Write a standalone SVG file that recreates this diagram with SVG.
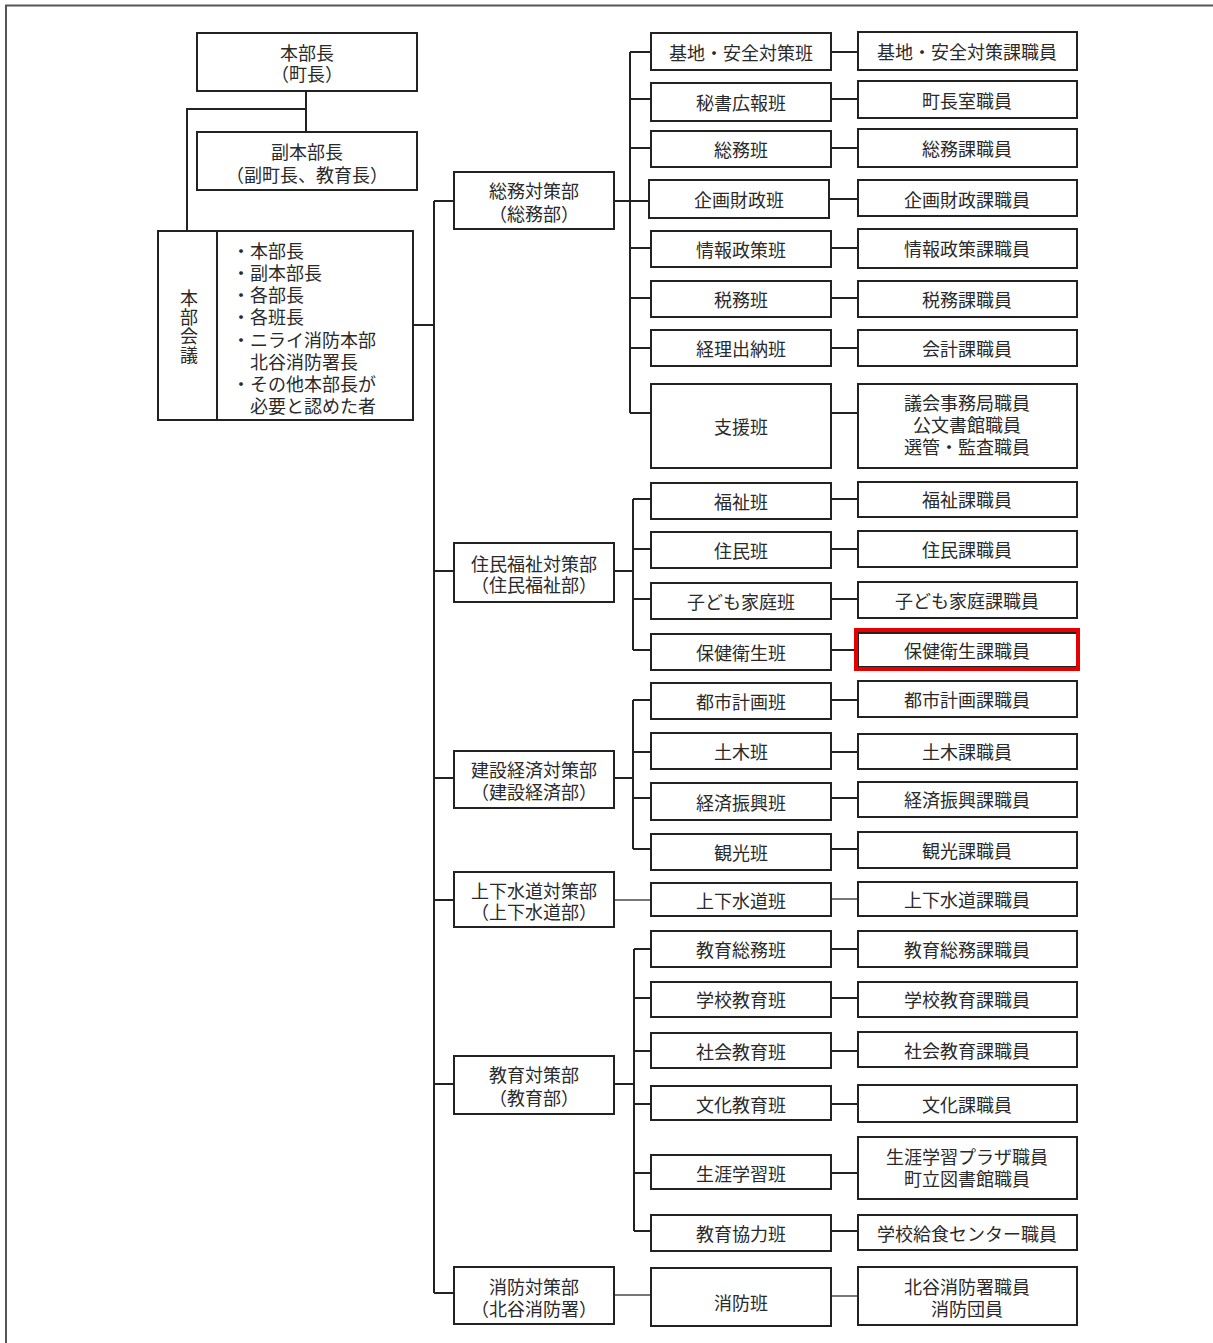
<svg xmlns="http://www.w3.org/2000/svg" width="1213" height="1343" viewBox="0 0 1213 1343">
<style>
.b{fill:#fff;stroke:#222;stroke-width:2}
.t{font-family:"Liberation Sans","Noto Sans CJK JP",sans-serif;font-size:18px;fill:#2a2a2a;text-anchor:middle;dominant-baseline:central;transform:translate(0px,2px)}
.tl{font-family:"Liberation Sans","Noto Sans CJK JP",sans-serif;font-size:18px;fill:#2a2a2a;dominant-baseline:central;transform:translate(0px,2px)}
.tv{font-family:"Liberation Sans","Noto Sans CJK JP",sans-serif;font-size:18px;fill:#2a2a2a;text-anchor:middle;writing-mode:vertical-rl;letter-spacing:1px}
.c{fill:none;stroke:#222;stroke-width:2}
.g{fill:none;stroke:#777;stroke-width:2}
.hl{fill:none;stroke:#e60000;stroke-width:4}
</style>
<rect x="0" y="0" width="1213" height="1343" fill="#fff"/>
<g id="frame"><path d="M6 1343V5.5H1213" fill="none" stroke="#555" stroke-width="2"/></g>

<g id="connectors">
<path class="c" d="M306 91V132M306 109H187V231"/>
<path class="c" d="M413 325H434M434 201V1293"/>
<path class="c" d="M434 201H454M434 571H454M434 778H454M434 900H454M434 1084H454M434 1293H454"/>
<path class="c" d="M614 201H630M630 52V413M630 52H651M630 99H651M630 148H651M630 201H649M630 248H651M630 298H651M630 348H651M630 413H651"/>
<path class="c" d="M831 52H858M831 99H858M831 148H858M829 199H858M831 248H858M831 298H858M831 348H858M831 413H858"/>
<path class="c" d="M614 571H633M633 499V650M633 499H651M633 549H651M633 599H651M633 650H651"/>
<path class="c" d="M831 499H858M831 549H858M831 599H858M831 650H858"/>
<path class="c" d="M614 778H633M633 700V849M633 700H651M633 752H651M633 798H651M633 849H651"/>
<path class="c" d="M831 700H858M831 752H858M831 798H858M831 849H858"/>
<path class="g" d="M614 900H651M831 899H858"/>
<path class="c" d="M614 1084H634M634 949V1231M634 949H651M634 998H651M634 1051H651M634 1104H651M634 1173H651M634 1231H651"/>
<path class="c" d="M831 949H858M831 998H858M831 1051H858M831 1104H858M831 1173H858M831 1231H858"/>
<path class="g" d="M614 1295H651M831 1296H858"/>
</g>

<g id="honbucho"><rect class="b" x="197" y="33" width="220" height="58"/><text class="t"><tspan x="307" y="52">本部長</tspan><tspan x="307" y="73">（町長）</tspan></text></g>
<g id="fukuhonbucho"><rect class="b" x="197" y="132" width="220" height="58"/><text class="t"><tspan x="307" y="151">副本部長</tspan><tspan x="307" y="174">（副町長、教育長）</tspan></text></g>
<g id="honbukaigi"><rect class="b" x="158" y="231" width="255" height="189"/><path class="c" d="M217 231V420"/>
<text class="tv" x="187" y="327">本部会議</text>
<text class="tl"><tspan x="232" y="250">・本部長</tspan><tspan x="232" y="272">・副本部長</tspan><tspan x="232" y="294">・各部長</tspan><tspan x="232" y="316">・各班長</tspan><tspan x="232" y="339">・ニライ消防本部</tspan><tspan x="250" y="361">北谷消防署長</tspan><tspan x="232" y="383">・その他本部長が</tspan><tspan x="250" y="405">必要と認めた者</tspan></text>
</g>

<g id="dept-somu"><rect class="b" x="454" y="172" width="160" height="57"/><text class="t"><tspan x="534" y="190">総務対策部</tspan><tspan x="534" y="213">（総務部）</tspan></text></g>
<g id="dept-jumin"><rect class="b" x="454" y="543" width="160" height="59"/><text class="t"><tspan x="534" y="563">住民福祉対策部</tspan><tspan x="534" y="584">（住民福祉部）</tspan></text></g>
<g id="dept-kensetsu"><rect class="b" x="454" y="751" width="160" height="57"/><text class="t"><tspan x="534" y="769">建設経済対策部</tspan><tspan x="534" y="791">（建設経済部）</tspan></text></g>
<g id="dept-gesuido"><rect class="b" x="454" y="872" width="160" height="55"/><text class="t"><tspan x="534" y="890">上下水道対策部</tspan><tspan x="534" y="911">（上下水道部）</tspan></text></g>
<g id="dept-kyoiku"><rect class="b" x="454" y="1056" width="160" height="58"/><text class="t"><tspan x="534" y="1074">教育対策部</tspan><tspan x="534" y="1097">（教育部）</tspan></text></g>
<g id="dept-shobo"><rect class="b" x="454" y="1267" width="160" height="57"/><text class="t"><tspan x="534" y="1286">消防対策部</tspan><tspan x="534" y="1308">（北谷消防署）</tspan></text></g>

<g id="han-kichi"><rect class="b" x="651" y="33" width="180" height="37"/><text class="t" x="741" y="52">基地・安全対策班</text></g>
<g id="han-hisho"><rect class="b" x="651" y="83" width="180" height="38"/><text class="t" x="741" y="102">秘書広報班</text></g>
<g id="han-somu"><rect class="b" x="651" y="131" width="180" height="36"/><text class="t" x="741" y="149">総務班</text></g>
<g id="han-kikaku"><rect class="b" x="649" y="180" width="180" height="38"/><text class="t" x="739" y="199">企画財政班</text></g>
<g id="han-joho"><rect class="b" x="651" y="231" width="180" height="36"/><text class="t" x="741" y="249">情報政策班</text></g>
<g id="han-zeimu"><rect class="b" x="651" y="281" width="180" height="36"/><text class="t" x="741" y="299">税務班</text></g>
<g id="han-keiri"><rect class="b" x="651" y="330" width="180" height="36"/><text class="t" x="741" y="348">経理出納班</text></g>
<g id="han-shien"><rect class="b" x="651" y="384" width="180" height="84"/><text class="t" x="741" y="426">支援班</text></g>
<g id="han-fukushi"><rect class="b" x="651" y="483" width="180" height="36"/><text class="t" x="741" y="501">福祉班</text></g>
<g id="han-jumin"><rect class="b" x="651" y="532" width="180" height="36"/><text class="t" x="741" y="550">住民班</text></g>
<g id="han-kodomo"><rect class="b" x="651" y="583" width="180" height="36"/><text class="t" x="741" y="601">子ども家庭班</text></g>
<g id="han-hoken"><rect class="b" x="651" y="634" width="180" height="36"/><text class="t" x="741" y="652">保健衛生班</text></g>
<g id="han-toshi"><rect class="b" x="651" y="683" width="180" height="36"/><text class="t" x="741" y="701">都市計画班</text></g>
<g id="han-doboku"><rect class="b" x="651" y="733" width="180" height="36"/><text class="t" x="741" y="751">土木班</text></g>
<g id="han-keizai"><rect class="b" x="651" y="783" width="180" height="37"/><text class="t" x="741" y="802">経済振興班</text></g>
<g id="han-kanko"><rect class="b" x="651" y="834" width="180" height="36"/><text class="t" x="741" y="852">観光班</text></g>
<g id="han-gesuido"><rect class="b" x="651" y="883" width="180" height="33"/><text class="t" x="741" y="900">上下水道班</text></g>
<g id="han-kyoikusomu"><rect class="b" x="651" y="931" width="180" height="36"/><text class="t" x="741" y="949">教育総務班</text></g>
<g id="han-gakko"><rect class="b" x="651" y="982" width="180" height="35"/><text class="t" x="741" y="999">学校教育班</text></g>
<g id="han-shakai"><rect class="b" x="651" y="1033" width="180" height="35"/><text class="t" x="741" y="1051">社会教育班</text></g>
<g id="han-bunka"><rect class="b" x="651" y="1086" width="180" height="34"/><text class="t" x="741" y="1104">文化教育班</text></g>
<g id="han-shogai"><rect class="b" x="651" y="1155" width="180" height="34"/><text class="t" x="741" y="1173">生涯学習班</text></g>
<g id="han-kyoryoku"><rect class="b" x="651" y="1215" width="180" height="36"/><text class="t" x="741" y="1233">教育協力班</text></g>
<g id="han-shobo"><rect class="b" x="651" y="1268" width="180" height="58"/><text class="t" x="741" y="1302">消防班</text></g>

<g id="st-kichi"><rect class="b" x="858" y="32" width="219" height="38"/><text class="t" x="967" y="51">基地・安全対策課職員</text></g>
<g id="st-chocho"><rect class="b" x="858" y="81" width="219" height="37"/><text class="t" x="967" y="100">町長室職員</text></g>
<g id="st-somu"><rect class="b" x="858" y="129" width="219" height="38"/><text class="t" x="967" y="148">総務課職員</text></g>
<g id="st-kikaku"><rect class="b" x="858" y="180" width="219" height="36"/><text class="t" x="967" y="199">企画財政課職員</text></g>
<g id="st-joho"><rect class="b" x="858" y="229" width="219" height="39"/><text class="t" x="967" y="248">情報政策課職員</text></g>
<g id="st-zeimu"><rect class="b" x="858" y="281" width="219" height="36"/><text class="t" x="967" y="299">税務課職員</text></g>
<g id="st-kaikei"><rect class="b" x="858" y="330" width="219" height="36"/><text class="t" x="967" y="348">会計課職員</text></g>
<g id="st-shien"><rect class="b" x="858" y="384" width="219" height="84"/><text class="t"><tspan x="967" y="402">議会事務局職員</tspan><tspan x="967" y="424">公文書館職員</tspan><tspan x="967" y="446">選管・監査職員</tspan></text></g>
<g id="st-fukushi"><rect class="b" x="858" y="482" width="219" height="35"/><text class="t" x="967" y="499">福祉課職員</text></g>
<g id="st-jumin"><rect class="b" x="858" y="531" width="219" height="36"/><text class="t" x="967" y="549">住民課職員</text></g>
<g id="st-kodomo"><rect class="b" x="858" y="582" width="219" height="36"/><text class="t" x="967" y="600">子ども家庭課職員</text></g>
<g id="st-hoken"><rect class="b" x="858" y="633" width="219" height="34"/><text class="t" x="967" y="650">保健衛生課職員</text><rect class="hl" x="856" y="630" width="222" height="39"/></g>
<g id="st-toshi"><rect class="b" x="858" y="681" width="219" height="36"/><text class="t" x="967" y="699">都市計画課職員</text></g>
<g id="st-doboku"><rect class="b" x="858" y="734" width="219" height="35"/><text class="t" x="967" y="751">土木課職員</text></g>
<g id="st-keizai"><rect class="b" x="858" y="782" width="219" height="35"/><text class="t" x="967" y="799">経済振興課職員</text></g>
<g id="st-kanko"><rect class="b" x="858" y="832" width="219" height="36"/><text class="t" x="967" y="850">観光課職員</text></g>
<g id="st-gesuido"><rect class="b" x="858" y="882" width="219" height="34"/><text class="t" x="967" y="899">上下水道課職員</text></g>
<g id="st-kyoikusomu"><rect class="b" x="858" y="931" width="219" height="36"/><text class="t" x="967" y="949">教育総務課職員</text></g>
<g id="st-gakko"><rect class="b" x="858" y="982" width="219" height="35"/><text class="t" x="967" y="999">学校教育課職員</text></g>
<g id="st-shakai"><rect class="b" x="858" y="1032" width="219" height="35"/><text class="t" x="967" y="1050">社会教育課職員</text></g>
<g id="st-bunka"><rect class="b" x="858" y="1085" width="219" height="37"/><text class="t" x="967" y="1104">文化課職員</text></g>
<g id="st-shogai"><rect class="b" x="858" y="1137" width="219" height="62"/><text class="t"><tspan x="967" y="1156">生涯学習プラザ職員</tspan><tspan x="967" y="1178">町立図書館職員</tspan></text></g>
<g id="st-kyushoku"><rect class="b" x="858" y="1215" width="219" height="35"/><text class="t" x="967" y="1233">学校給食センター職員</text></g>
<g id="st-shobo"><rect class="b" x="858" y="1267" width="219" height="58"/><text class="t"><tspan x="967" y="1286">北谷消防署職員</tspan><tspan x="967" y="1308">消防団員</tspan></text></g>
</svg>
